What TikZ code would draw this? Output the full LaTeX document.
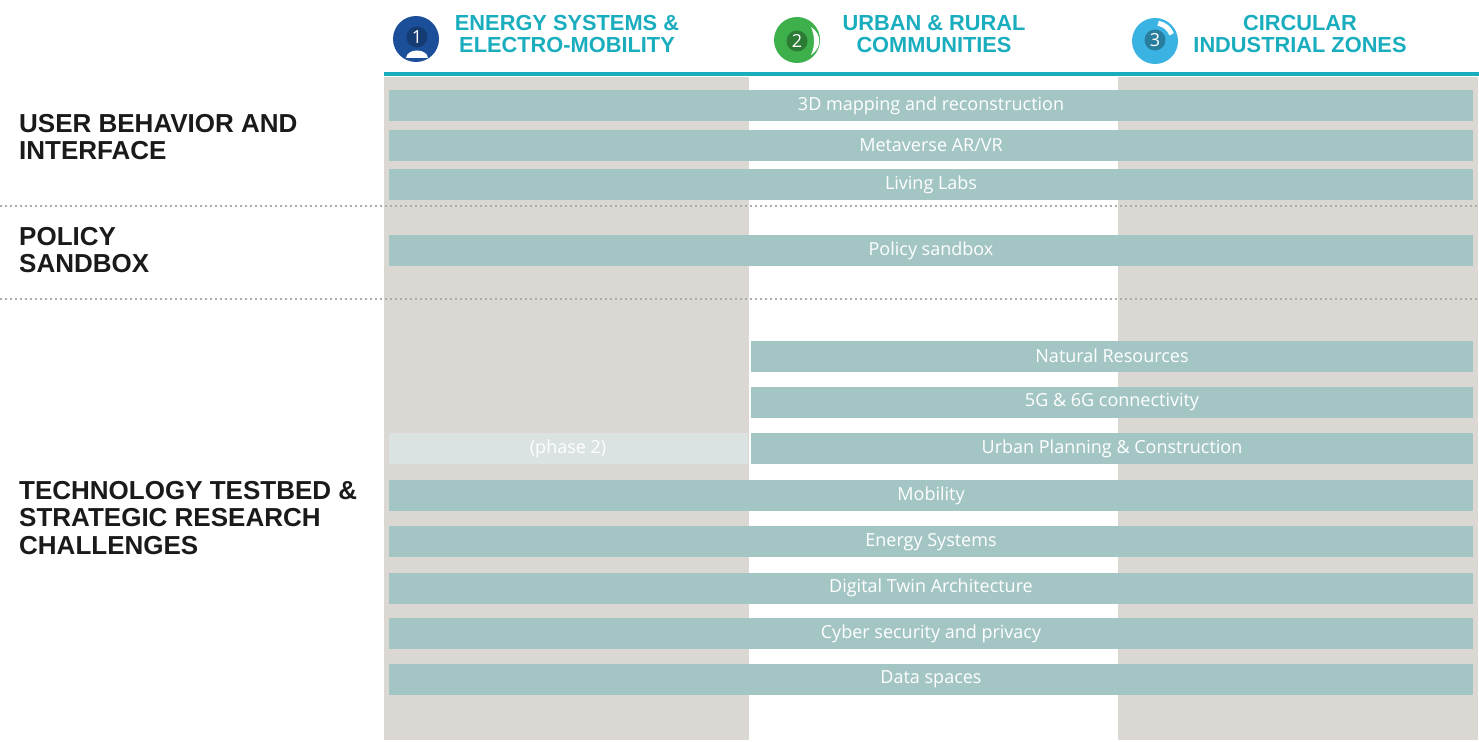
\documentclass[tikz,border=0pt]{standalone}
\usepackage{fontspec}
\setmainfont{Liberation Sans}
\newfontfamily\barfont{Open Sans}
\usepackage{tikz}
\usetikzlibrary{positioning}

\definecolor{colgray}{HTML}{DBD7D2}
\definecolor{barteal}{HTML}{A3C6C4}
\definecolor{barpale}{HTML}{DAE3E2}
\definecolor{headteal}{HTML}{1AADBE}
\definecolor{icblue}{HTML}{1C4F9A}
\definecolor{icgreen}{HTML}{3DAF4B}
\definecolor{iccyan}{HTML}{3AB3E2}
\definecolor{labelink}{HTML}{1A1A1A}

\tikzset{
  bar/.style={fill=barteal, minimum height=31pt, inner sep=0pt, text=white,
    font=\barfont\fontsize{18}{20}\selectfont},
  rowlabel/.style={anchor=north west, inner sep=0pt, align=left, text=labelink,
    font=\bfseries\fontsize{26}{27.5}\selectfont},
  colhead/.style={anchor=north, inner sep=0pt, align=center, text=headteal,
    font=\bfseries\fontsize{21.8}{22}\selectfont},
  icon/.style={circle, minimum size=46pt, inner sep=0pt},
  badge/.style={circle, minimum size=21pt, inner sep=0pt, text=white,
    font=\barfont\fontsize{18}{18}\selectfont},
  sepline/.style={gray!65, line width=2pt, dash pattern=on 2pt off 3pt}
}

\begin{document}
\begin{tikzpicture}[x=1pt,y=-1pt]
\useasboundingbox (0,0) rectangle (1479,741);
\fill[colgray] (384,77) rectangle (749,740);
\fill[colgray] (1118,77) rectangle (1478,740);
\draw[headteal, line width=4pt] (384,74) -- (1479,74);
\draw[sepline] (0,206) -- (1479,206);
\draw[sepline] (0,299) -- (1479,299);

\node[icon, fill=icblue] (ic1) at (416,39) {};
\node[badge, fill=icblue!75!black] (n1) at (417,37) {1};
\fill[white] (406,58) .. controls (407,48) and (427,48) .. (428,58) -- cycle;
\node[icon, fill=icgreen] (ic2) at (797,40) {};
\node[badge, fill=icgreen!70!black] (n2) at (797,41) {2};
\fill[white] (811,27) .. controls (822,34) and (822,48) .. (811,55) .. controls (815,46) and (815,36) .. (811,27) -- cycle;
\node[icon, fill=iccyan] (ic3) at (1155,41) {};
\node[badge, fill=iccyan!70!black] (n3) at (1155,40) {3};
\draw[white, line width=5pt] (ic3.center) ++(-80:18) arc[start angle=-80, end angle=-22, radius=18];

\node[colhead] (h1) at (567,15) {ENERGY SYSTEMS \&\\ELECTRO-MOBILITY};
\node[colhead] (h2) at (934,15) {URBAN \& RURAL\\COMMUNITIES};
\node[colhead] (h3) at (1300,15) {CIRCULAR\\INDUSTRIAL ZONES};

\node[rowlabel] (ubi) at (19,114) {USER BEHAVIOR AND\\INTERFACE};
\node[rowlabel] (pol) at (19,227) {POLICY\\SANDBOX};
\node[rowlabel] (tech) at (19,481) {TECHNOLOGY TESTBED \&\\STRATEGIC RESEARCH\\CHALLENGES};

\node[bar, minimum width=1084pt] (map3d) at (931,106) {3D mapping and reconstruction};
\node[bar, minimum width=1084pt, below=8pt of map3d] (meta) {Metaverse AR/VR};
\node[bar, minimum width=1084pt, below=8pt of meta] (labs) {Living Labs};
\node[bar, minimum width=1084pt] (sandbox) at (931,250.5) {Policy sandbox};

\node[bar, minimum width=722pt] (natres) at (1112,356) {Natural Resources};
\node[bar, minimum width=722pt, below=15pt of natres] (conn) {5G \& 6G connectivity};
\node[bar, minimum width=722pt, below=15pt of conn] (urban) {Urban Planning \& Construction};
\node[bar, fill=barpale, minimum width=359pt, left=3pt of urban] (phase) {(phase 2)};
\node[bar, minimum width=1084pt] (mob) at (931,495.5) {Mobility};
\node[bar, minimum width=1084pt, below=15pt of mob] (energy) {Energy Systems};
\node[bar, minimum width=1084pt, below=15pt of energy] (twin) {Digital Twin Architecture};
\node[bar, minimum width=1084pt, below=14pt of twin] (cyber) {Cyber security and privacy};
\node[bar, minimum width=1084pt, below=14pt of cyber] (data) {Data spaces};
\end{tikzpicture}
\end{document}
